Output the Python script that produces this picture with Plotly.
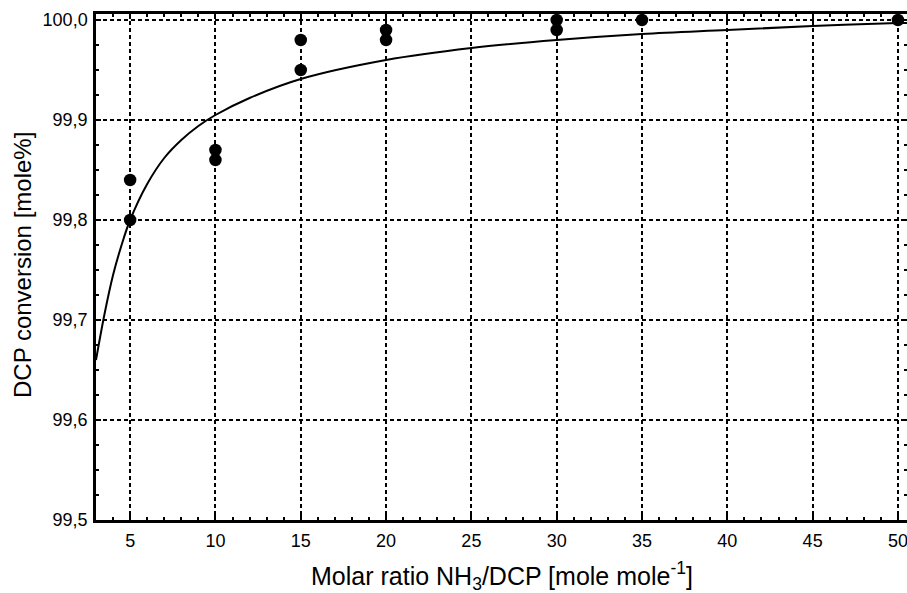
import plotly.graph_objects as go

# measured points
pts_x = [5, 5, 10, 10, 15, 15, 20, 20, 30, 30, 35, 50]
pts_y = [99.84, 99.80, 99.87, 99.86, 99.98, 99.95, 99.99, 99.98, 100.0, 99.99, 100.0, 100.0]

# fitted curve
curve_x = [3.0, 3.5, 4.0, 4.5, 5.0, 6.0, 7.0, 8.0, 9.0, 10.0, 12.0, 15.0, 20.0, 25.0, 30.0, 35.0, 40.0, 45.0, 50.0, 50.6]
curve_y = [99.660, 99.706, 99.745, 99.775, 99.800, 99.836, 99.862, 99.880, 99.894, 99.905, 99.922, 99.941,
           99.960, 99.972, 99.980, 99.986, 99.990, 99.994, 99.997, 99.997]

x_ticks = [5, 10, 15, 20, 25, 30, 35, 40, 45, 50]
y_ticks = [99.5, 99.6, 99.7, 99.8, 99.9, 100.0]

FONT = "Arial, 'Liberation Sans', sans-serif"
W, H = 907, 593
ML, MR, MT, MB = 96, 0, 14, 73

fig = go.Figure()
fig.add_trace(go.Scatter(x=curve_x, y=curve_y, mode="lines",
                         line=dict(color="black", width=2, shape="spline", smoothing=1.0),
                         showlegend=False, hoverinfo="skip"))
fig.add_trace(go.Scatter(x=pts_x, y=pts_y, mode="markers",
                         marker=dict(color="black", size=12.5),
                         showlegend=False, cliponaxis=False))

grid = dict(showgrid=True, gridcolor="black", gridwidth=2, griddash="4px,3px")

fig.update_xaxes(range=[3, 50.53], tickvals=x_ticks, ticks="inside", ticklen=5,
                 tickwidth=1.5, tickcolor="black",
                 showline=True, linecolor="black", linewidth=2.5, mirror="allticks",
                 minor=dict(dtick=1, ticks="inside", ticklen=3.5, tickcolor="black", tickwidth=1.5, showgrid=False),
                 tickfont=dict(family=FONT, size=18, color="black"),
                 ticklabelstandoff=3, ticklabeloverflow="allow",
                 zeroline=False, automargin=False, **grid)
fig.update_yaxes(range=[99.5, 100.006], tickvals=y_ticks, tickformat=".1f", ticks="inside", ticklen=5,
                 tickwidth=1.5, tickcolor="black",
                 showline=True, linecolor="black", linewidth=2.5, mirror="allticks",
                 minor=dict(dtick=0.025, tick0=99.5, ticks="inside", ticklen=3.5, tickcolor="black", tickwidth=1.5, showgrid=False),
                 tickfont=dict(family=FONT, size=18, color="black"),
                 ticklabelstandoff=2, ticklabeloverflow="allow",
                 zeroline=False, automargin=False, **grid)

# axis titles placed as annotations in pixel-derived paper coordinates
pw = W - ML - MR
ph = H - MT - MB
fig.add_annotation(text="Molar ratio NH<sub>3</sub>/DCP [mole mole<sup>-1</sup>]",
                   xref="paper", yref="paper",
                   x=(502 - ML) / pw, y=(H - MB - 576) / ph,
                   xanchor="center", yanchor="middle", showarrow=False,
                   font=dict(family=FONT, size=25, color="black"))
fig.add_annotation(text="DCP conversion [mole%]", textangle=-90,
                   xref="paper", yref="paper",
                   x=(22 - ML) / pw, y=(H - MB - 265) / ph,
                   xanchor="center", yanchor="middle", showarrow=False,
                   font=dict(family=FONT, size=24, color="black"))

fig.update_layout(width=W, height=H, separators=", ",
                  margin=dict(l=ML, r=MR, t=MT, b=MB),
                  plot_bgcolor="white", paper_bgcolor="white",
                  font=dict(family=FONT, color="black"))

fig.write_html("out.html", config={"displayModeBar": False},
               post_script="document.body.style.margin='0';document.body.style.overflow='hidden';")
